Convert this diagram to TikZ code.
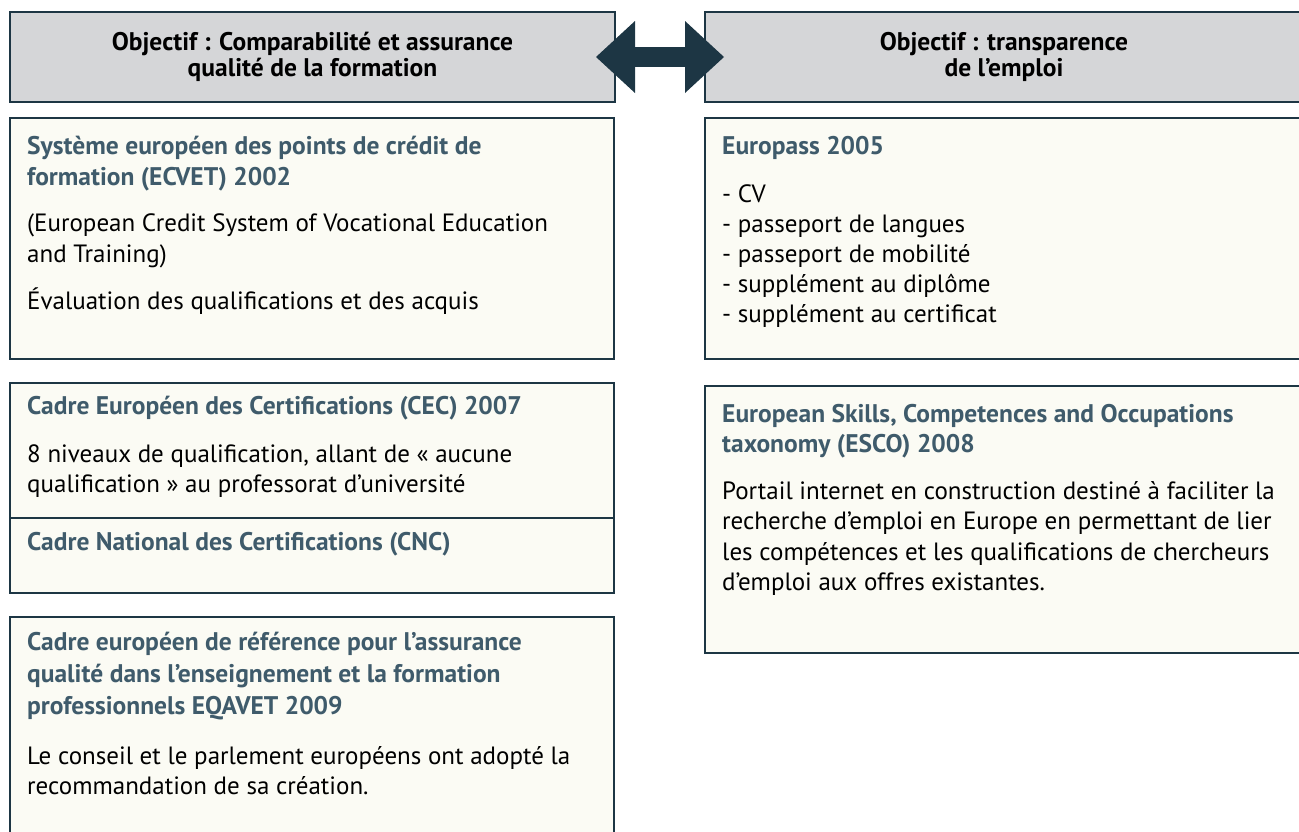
\documentclass[tikz,border=0pt]{standalone}
\usepackage{fontspec}
\setmainfont{PT Sans}
\usetikzlibrary{arrows.meta}

\definecolor{edge}{HTML}{1D3644}
\definecolor{headfill}{HTML}{D5D6D8}
\definecolor{boxfill}{HTML}{FBFBF4}
\definecolor{titlec}{HTML}{3F5B6B}

\tikzset{
  head/.style={draw=edge, fill=headfill, line width=2.5pt, outer sep=0pt, inner sep=0pt,
    align=center, font=\bfseries\fontsize{25.5}{26}\selectfont},
  panel/.style={draw=edge, fill=boxfill, line width=2.5pt, outer sep=0pt, inner sep=0pt, anchor=north west},
  ttl/.style={anchor=base west, inner sep=0pt, text=titlec, font=\bfseries\fontsize{25.5}{30}\selectfont},
  txt/.style={anchor=base west, inner sep=0pt, font=\fontsize{25}{30}\selectfont},
  link/.style={draw=edge, line width=20pt, shorten <=-19pt, shorten >=-19pt,
    {Triangle[length=39pt,width=72pt,line width=0pt]}-{Triangle[length=39pt,width=72pt,line width=0pt]}}
}

\begin{document}
\begin{tikzpicture}[x=1pt, y=-1pt]
\useasboundingbox (0,0) rectangle (1299,831);

% headers
\node[head, minimum width=605pt, minimum height=90pt] (lhead) at (312.5,57) {Objectif : Comparabilité et assurance\\qualité de la formation};
\node[head, minimum width=598pt, minimum height=90pt] (rhead) at (1004,57) {Objectif : transparence\\de l’emploi};
\draw[link] (lhead.east) -- (rhead.west);

% left column
\node[panel, minimum width=604pt, minimum height=241pt] (ecvet) at (10,118) {};
\node[ttl] (ecvet1) at (27,154) {Système européen des points de crédit de};
\node[ttl] (ecvet2) at (27,185) {formation (ECVET) 2002};
\node[txt] (ecvet3) at (27,231) {(European Credit System of Vocational Education};
\node[txt] (ecvet4) at (27,262) {and Training)};
\node[txt] (ecvet5) at (27,309) {Évaluation des qualifications et des acquis};

\node[panel, minimum width=604pt, minimum height=135pt] (cec) at (10,383) {};
\node[ttl] (cec1) at (27,414) {Cadre Européen des Certifications (CEC) 2007};
\node[txt] (cec2) at (27,462) {8 niveaux de qualification, allant de « aucune};
\node[txt] (cec3) at (27,492) {qualification » au professorat d’université};

\node[panel, minimum width=604pt, minimum height=75pt] (cnc) at (10,518) {};
\node[ttl] (cnc1) at (27,550) {Cadre National des Certifications (CNC)};

\node[panel, minimum width=604pt, minimum height=230pt] (eqavet) at (10,617) {};
\node[ttl] (eqavet1) at (27,650) {Cadre européen de référence pour l’assurance};
\node[ttl] (eqavet2) at (27,682) {qualité dans l’enseignement et la formation};
\node[ttl] (eqavet3) at (27,714) {professionnels EQAVET 2009};
\node[txt] (eqavet4) at (27,764) {Le conseil et le parlement européens ont adopté la};
\node[txt] (eqavet5) at (27,794) {recommandation de sa création.};

% right column
\node[panel, minimum width=598pt, minimum height=241pt] (europass) at (705,118) {};
\node[ttl] (europass1) at (722,154) {Europass 2005};
\node[txt] (europass2) at (722,202) {- CV};
\node[txt] (europass3) at (722,232) {- passeport de langues};
\node[txt] (europass4) at (722,262) {- passeport de mobilité};
\node[txt] (europass5) at (722,292) {- supplément au diplôme};
\node[txt] (europass6) at (722,322) {- supplément au certificat};

\node[panel, minimum width=598pt, minimum height=267pt] (esco) at (705,386) {};
\node[ttl] (esco1) at (722,422) {European Skills, Competences and Occupations};
\node[ttl] (esco2) at (722,452) {taxonomy (ESCO) 2008};
\node[txt] (esco3) at (722,499) {Portail internet en construction destiné à faciliter la};
\node[txt] (esco4) at (722,529) {recherche d’emploi en Europe en permettant de lier};
\node[txt] (esco5) at (722,560) {les compétences et les qualifications de chercheurs};
\node[txt] (esco6) at (722,590) {d’emploi aux offres existantes.};
\end{tikzpicture}
\end{document}
